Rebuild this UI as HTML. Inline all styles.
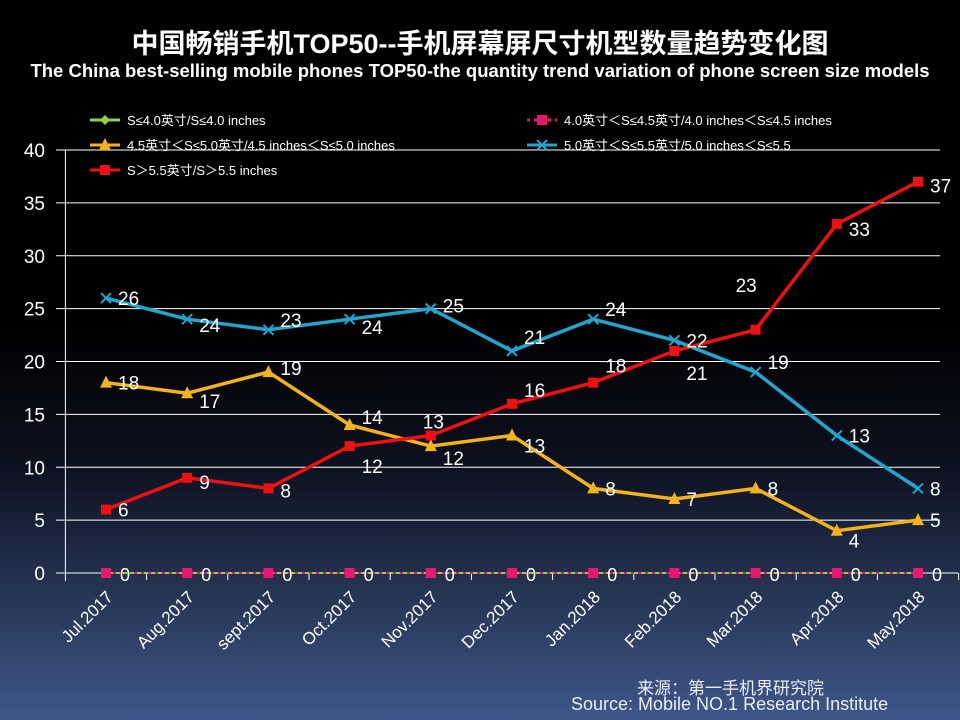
<!DOCTYPE html>
<html><head><meta charset="utf-8"><style>
html,body{margin:0;padding:0}
body{width:960px;height:720px;overflow:hidden;background:linear-gradient(to bottom,#000 0%,#000 45%,#0d1220 65%,#2a3a5c 85%,#3f5688 100%);font-family:"Liberation Sans","Noto Sans CJK SC",sans-serif;color:#fff;position:relative}
.t1{position:absolute;top:22px;left:0;width:960px;text-align:center;font-size:27px;font-weight:bold}
.t2{position:absolute;top:60px;left:0;width:960px;text-align:center;font-size:18.5px;font-weight:bold}
.src{position:absolute;font-size:17px;color:#e8eef8}
</style></head><body>
<div class="t1">中国畅销手机TOP50--手机屏幕屏尺寸机型数量趋势变化图</div>
<div class="t2">The China best-selling mobile phones TOP50-the quantity trend variation of phone screen size models</div>
<svg id="chart" width="960" height="720" style="position:absolute;left:0;top:0"></svg>
<div class="src" style="left:637px;top:674px">来源：第一手机界研究院</div>
<div class="src" style="left:571px;top:694px;font-size:18px">Source: Mobile NO.1 Research Institute</div>
<script>
const categories=["Jul.2017","Aug.2017","sept.2017","Oct.2017","Nov.2017","Dec.2017","Jan.2018","Feb.2018","Mar.2018","Apr.2018","May.2018"];
const s1=[0,0,0,0,0,0,0,0,0,0,0];
const s2=[0,0,0,0,0,0,0,0,0,0,0];
const s3=[18,17,19,14,12,13,8,7,8,4,5];
const s4=[26,24,23,24,25,21,24,22,19,13,8];
const s5=[6,9,8,12,13,16,18,21,23,33,37];
const yTicks=[0,5,10,15,20,25,30,35,40];
const legendNames=["S≤4.0英寸/S≤4.0 inches","4.0英寸＜S≤4.5英寸/4.0 inches＜S≤4.5 inches","4.5英寸＜S≤5.0英寸/4.5 inches＜S≤5.0 inches","5.0英寸＜S≤5.5英寸/5.0 inches＜S≤5.5","S＞5.5英寸/S＞5.5 inches"];
const svg=document.getElementById('chart');const NS="http://www.w3.org/2000/svg";
const x0=65.4,bw=81.2,yb=573,yt=150,ymax=40;
const X=i=>x0+bw*(i+0.5);const Y=v=>yb-(v/ymax)*(yb-yt);
function mk(t,a,p){const e=document.createElementNS(NS,t);for(const k in a)e.setAttribute(k,a[k]);(p||svg).appendChild(e);return e;}
const F='"Liberation Sans","Noto Sans CJK SC",sans-serif';
yTicks.forEach(v=>{const g=mk('line',{x1:56,x2:v===0?958:940,y1:Y(v),y2:Y(v),stroke:'#fff','stroke-width':1});

const t=mk('text',{x:45,y:Y(v)+7,'text-anchor':'end','font-size':19,fill:'#fff','font-family':F});t.textContent=v;
});
const ax=mk('line',{x1:x0,x2:x0,y1:yt,y2:yb+8,stroke:'#fff'});
categories.forEach((c,i)=>{const tk=mk('line',{x1:x0+bw*(i+1),x2:x0+bw*(i+1),y1:yb,y2:yb+7,stroke:'#fff'});

const t=mk('text',{x:X(i)+8,y:598,'text-anchor':'end','font-size':17,fill:'#fff','font-family':F,transform:`rotate(-45 ${X(i)+8} 598)`});t.textContent=c;
});
const series=[{d:s1,c:'#92d050',m:'dia'},{d:s2,c:'#e8186e',m:'sq',dash:'3,4'},{d:s3,c:'#f5b31b',m:'tri'},{d:s4,c:'#22a6d0',m:'x'},{d:s5,c:'#ee1111',m:'sq'}];
function marker(m,x,y,c){let e;
if(m==='sq')e=mk('rect',{x:x-5,y:y-5,width:10,height:10,fill:c});
else if(m==='tri')e=mk('polygon',{points:`${x},${y-7} ${x-6},${y+5} ${x+6},${y+5}`,fill:c});
else if(m==='dia')e=mk('polygon',{points:`${x},${y-5} ${x+5},${y} ${x},${y+5} ${x-5},${y}`,fill:c});
else{e=mk('path',{d:`M${x-5},${y-5}L${x+5},${y+5}M${x-5},${y+5}L${x+5},${y-5}`,stroke:c,'stroke-width':2});}
}
series.forEach((s,si)=>{const p=mk('polyline',{points:s.d.map((v,i)=>X(i)+','+Y(v)).join(' '),fill:'none',stroke:s.c,'stroke-width':si<2?2:3.5,'stroke-dasharray':s.dash||'none'});

s.d.forEach((v,i)=>marker(s.m,X(i),Y(v),s.c));});
// value label offsets (style only)
const lblDy4=[0,6,-10,8,-3,-14,-10,0,-10,0,0];
const lblDy3=[0,8,-4,-8,12,10,0,0,0,10,0];
const lblDy5=[0,4,2,20,-14,-14,-17,22,-45,5,4];
const lblDx5=[12,12,12,12,-8,12,12,12,-20,12,12];
function lab(arr,dy,dx){arr.forEach((v,i)=>{const t=mk('text',{x:X(i)+(dx?dx[i]:12),y:Y(v)+7+dy[i],'font-size':19,fill:'#fff','font-family':F});t.textContent=v;
});}
lab(s3,lblDy3);lab(s4,lblDy4);lab(s5,lblDy5,lblDx5);
s1.forEach((v,i)=>{const t=mk('text',{x:X(i)+14,y:Y(v)+8,'font-size':18,fill:'#fff','font-family':F});t.textContent=v;});
// legend
const lpos=[[90,120],[527,120],[90,145],[527,145],[90,170]];
legendNames.forEach((n,i)=>{const [lx,ly]=lpos[i];const s=series[i];
const l=mk('line',{x1:lx,x2:lx+30,y1:ly,y2:ly,stroke:s.c,'stroke-width':3,'stroke-dasharray':s.dash||'none'});

marker(s.m,lx+15,ly,s.c);
const t=mk('text',{x:lx+37,y:ly+5,'font-size':13,fill:'#fff','font-family':F});t.textContent=n;
});
</script>
</body></html>
